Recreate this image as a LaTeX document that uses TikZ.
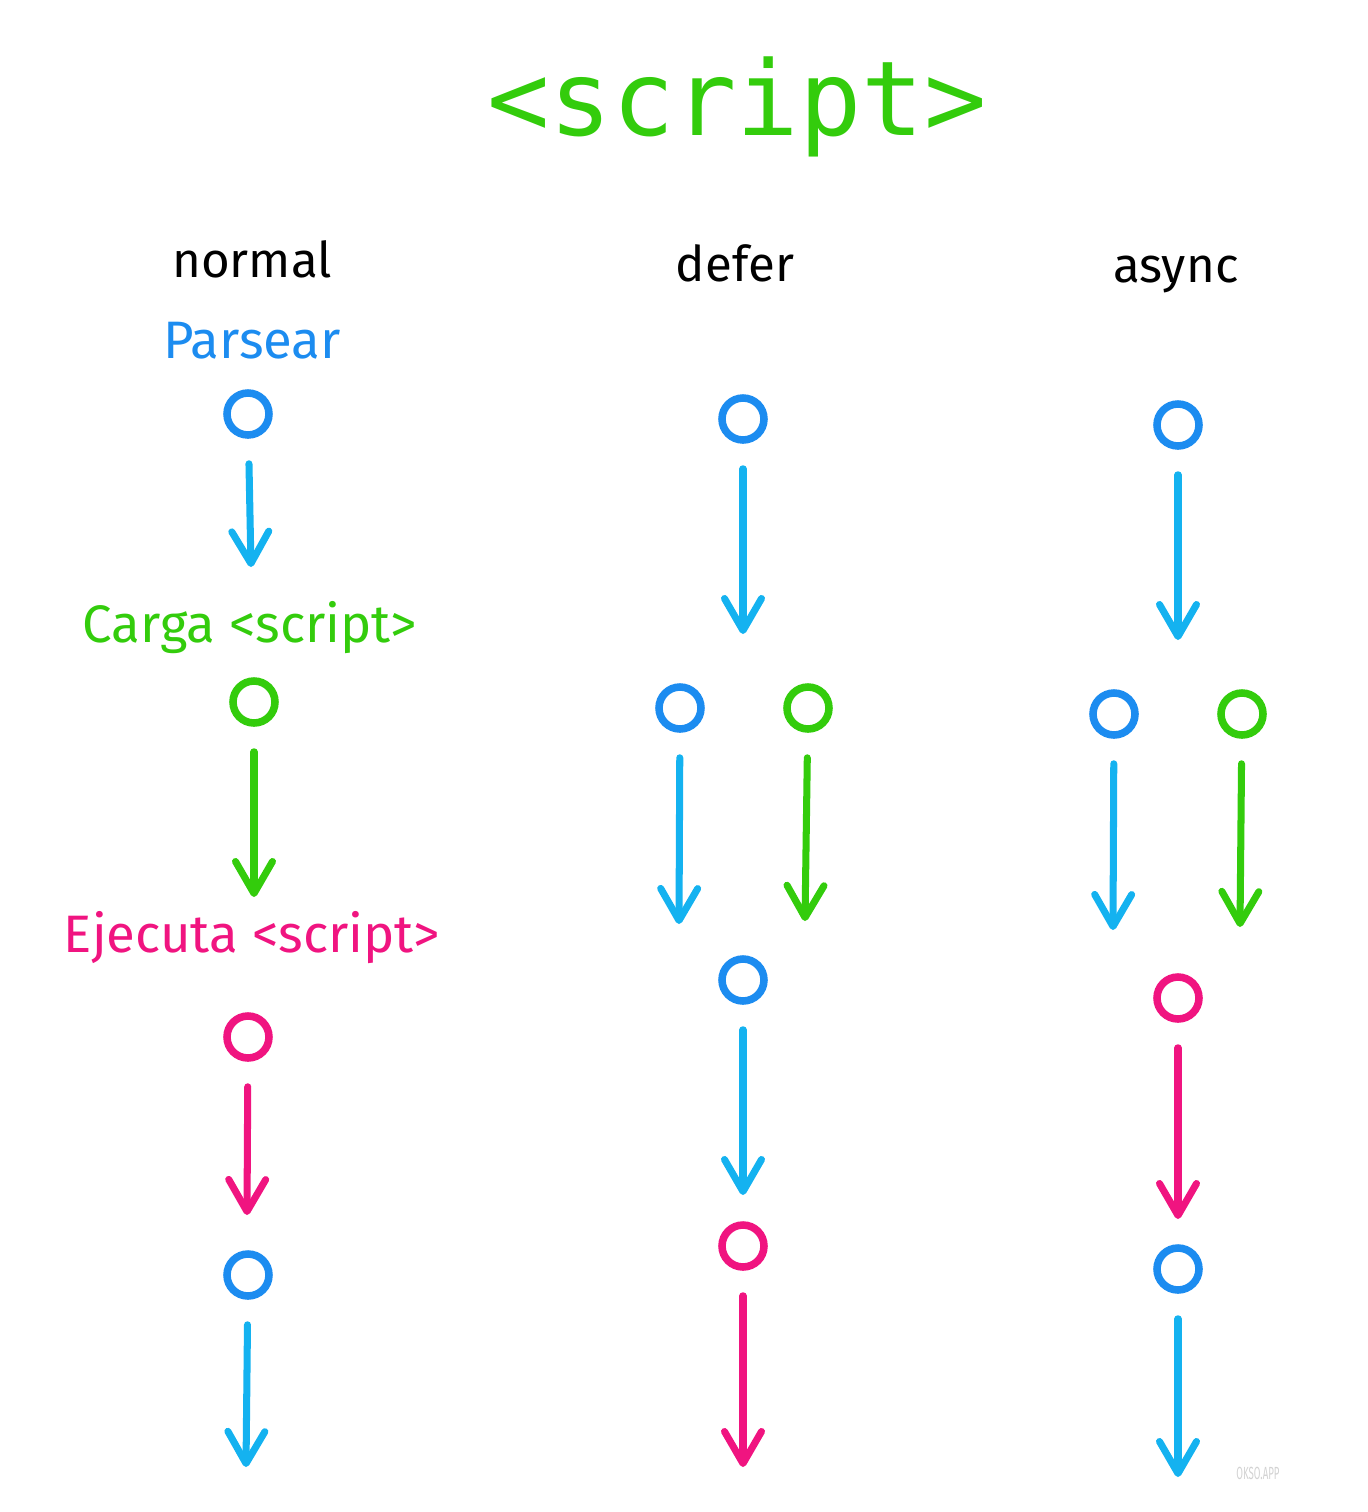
\documentclass[tikz,border=0pt]{standalone}
\usepackage{fontspec}
\setmainfont{Fira Sans}
\setmonofont{DejaVu Sans Mono}
\usepackage{xcolor}
\definecolor{scblue}{HTML}{1C8CF0}
\definecolor{scsky}{HTML}{14B2F0}
\definecolor{scgreen}{HTML}{33CC0C}
\definecolor{scpink}{HTML}{F01480}
\usepackage{tikz}
\usetikzlibrary{arrows.meta, positioning}

\begin{document}
\begin{tikzpicture}[x=0.02cm, y=-0.02cm,
  dot/.style={circle, draw, line width=4.3pt, minimum size=0.84cm, inner sep=0pt},
  flow/.style={line width=4pt, line cap=round, shorten <=0.5cm,
               -{Straight Barb[length=0.64cm, width=0.74cm, round]}},
  head/.style={anchor=base, font=\fontsize{28}{28}\selectfont},
  phase/.style={anchor=base, font=\fontsize{30}{30}\selectfont},
]
  \useasboundingbox (0,0) rectangle (1368,1512);

  \node[anchor=base, text=scgreen, font=\ttfamily\fontsize{59}{59}\selectfont]
    (title) at (737,135) {<script>};

  \node[head] (lnormal) at (252,277) {normal};
  \node[head] (ldefer)  at (735,281) {defer};
  \node[head] (lasync)  at (1176,282) {async};

  % normal
  \node[phase, text=scblue]  (tparse) at (252,358) {Parsear};
  \node[phase, text=scgreen] (tload)  at (250,642) {Carga <script>};
  \node[phase, text=scpink]  (texec)  at (252,952) {Ejecuta <script>};

  \node[dot, draw=scblue]  (np1) at (248,414) {};
  \node[dot, draw=scgreen] (nc1) at (254,702) {};
  \node[dot, draw=scpink]  (nx1) at (248,1037) {};
  \node[dot, draw=scblue]  (np2) at (248,1275) {};
  \coordinate (ne1) at (251,567);
  \coordinate (ne2) at (254,897);
  \coordinate (ne3) at (247,1215);
  \coordinate (ne4) at (246,1467);
  \draw[flow, scsky]   (np1) -- (ne1);
  \draw[flow, scgreen] (nc1) -- (ne2);
  \draw[flow, scpink]  (nx1) -- (ne3);
  \draw[flow, scsky]   (np2) -- (ne4);

  % defer
  \node[dot, draw=scblue]  (dp1) at (743,419) {};
  \node[dot, draw=scblue]  (dp2) at (680,708) {};
  \node[dot, draw=scgreen] (dc1) at (808,708) {};
  \node[dot, draw=scblue]  (dp3) at (743,980) {};
  \node[dot, draw=scpink]  (dx1) at (743,1246) {};
  \coordinate (de1) at (743,634);
  \coordinate (de2) at (679,924);
  \coordinate (de3) at (805,921);
  \coordinate (de4) at (743,1195);
  \coordinate (de5) at (743,1467);
  \draw[flow, scsky]   (dp1) -- (de1);
  \draw[flow, scsky]   (dp2) -- (de2);
  \draw[flow, scgreen] (dc1) -- (de3);
  \draw[flow, scsky]   (dp3) -- (de4);
  \draw[flow, scpink]  (dx1) -- (de5);

  % async
  \node[dot, draw=scblue]  (ap1) at (1178,425) {};
  \node[dot, draw=scblue]  (ap2) at (1114,714) {};
  \node[dot, draw=scgreen] (ac1) at (1242,714) {};
  \node[dot, draw=scpink]  (ax1) at (1178,998) {};
  \node[dot, draw=scblue]  (ap3) at (1178,1269) {};
  \coordinate (ae1) at (1178,640);
  \coordinate (ae2) at (1113,930);
  \coordinate (ae3) at (1240,927);
  \coordinate (ae4) at (1178,1219);
  \coordinate (ae5) at (1178,1477);
  \draw[flow, scsky]   (ap1) -- (ae1);
  \draw[flow, scsky]   (ap2) -- (ae2);
  \draw[flow, scgreen] (ac1) -- (ae3);
  \draw[flow, scpink]  (ax1) -- (ae4);
  \draw[flow, scsky]   (ap3) -- (ae5);

  \node[text=gray!35, font=\fontsize{10}{10}\selectfont, xscale=0.55]
    (mark) at (1258,1473) {OKSO.APP};
\end{tikzpicture}
\end{document}
